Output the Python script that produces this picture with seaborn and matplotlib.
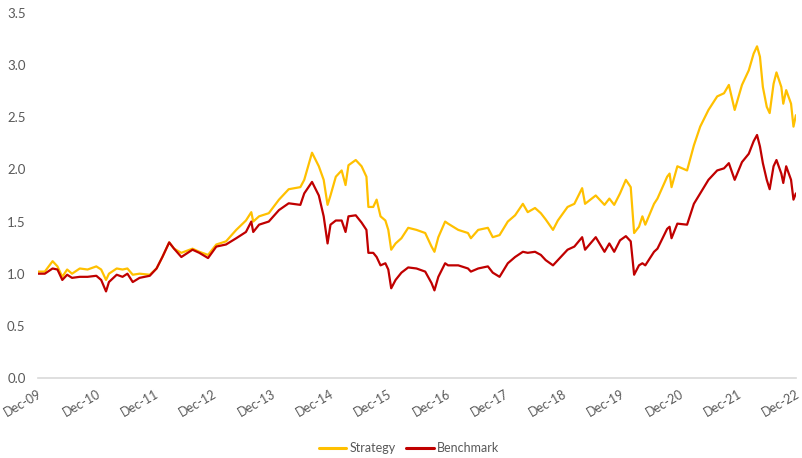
import numpy as np
import pandas as pd
import matplotlib
matplotlib.use('Agg')
import matplotlib.pyplot as plt
import seaborn as sns

# months since Dec-09
months = [0, 1.4, 3, 4, 5, 6, 7, 8.6, 10.2, 12, 13, 14, 14.6, 16.2, 17.4, 18.4, 19.5, 20.9, 23,
          24.4, 25.6, 27, 28, 29.5, 31.8, 33.2, 35, 36.7, 38.7, 40.8, 42.8, 43.9, 44.3, 45.5, 47.5,
          49.6, 51.6, 54, 54.8, 56.4, 57.8, 58.8, 59.6, 60.2, 61.3, 62.5, 63.3, 63.9, 65.4, 66.6,
          67.6, 68, 69, 69.7, 70.5, 71.5, 72.1, 72.7, 73.6, 74.8, 76.2, 77.9, 79.7, 81, 81.6, 82.4,
          83.8, 84.4, 86.5, 88.5, 89.1, 90.6, 92.6, 93.6, 95, 96.7, 98.2, 99.8, 100.8, 102.3, 103.5,
          104.5, 106, 107, 109, 110.4, 112, 112.6, 114.8, 116.6, 117.6, 118.6, 119.8, 121, 122,
          122.7, 123.7, 124.4, 125, 126.8, 127.5, 129.5, 130, 130.4, 131.6, 133.6, 135, 136.3, 138,
          139.8, 141.2, 142.2, 143.4, 144.9, 146.3, 147.3, 148, 148.6, 149.2, 150, 150.6, 151.4,
          152, 153, 153.4, 154, 155, 155.5, 156]

strategy = [1.02, 1.02, 1.12, 1.07, 0.97, 1.04, 1.00, 1.05, 1.04, 1.07, 1.04, 0.94, 1.00, 1.05, 1.04,
            1.05, 0.99, 1.00, 0.99, 1.05, 1.16, 1.30, 1.24, 1.20, 1.24, 1.21, 1.18, 1.28, 1.31, 1.42,
            1.51, 1.59, 1.50, 1.55, 1.58, 1.71, 1.81, 1.83, 1.90, 2.16, 2.03, 1.90, 1.66, 1.75, 1.93,
            1.99, 1.85, 2.04, 2.09, 2.03, 1.93, 1.64, 1.64, 1.71, 1.55, 1.51, 1.42, 1.23, 1.29, 1.34,
            1.44, 1.42, 1.39, 1.26, 1.21, 1.35, 1.50, 1.48, 1.42, 1.39, 1.34, 1.42, 1.44, 1.35, 1.37,
            1.50, 1.56, 1.67, 1.59, 1.63, 1.58, 1.52, 1.42, 1.51, 1.64, 1.67, 1.82, 1.67, 1.75, 1.66,
            1.72, 1.66, 1.77, 1.90, 1.83, 1.39, 1.45, 1.55, 1.47, 1.67, 1.72, 1.93, 1.96, 1.83, 2.03,
            1.99, 2.23, 2.41, 2.57, 2.70, 2.73, 2.81, 2.57, 2.81, 2.95, 3.11, 3.18, 3.08, 2.79, 2.60,
            2.54, 2.82, 2.93, 2.79, 2.63, 2.76, 2.63, 2.41, 2.52]

benchmark = [1.00, 1.00, 1.05, 1.04, 0.94, 0.99, 0.96, 0.97, 0.97, 0.98, 0.94, 0.83, 0.92, 0.99, 0.97,
             1.00, 0.92, 0.96, 0.98, 1.05, 1.16, 1.30, 1.24, 1.16, 1.23, 1.20, 1.15, 1.26, 1.28, 1.34,
             1.40, 1.50, 1.40, 1.47, 1.50, 1.61, 1.675, 1.66, 1.77, 1.88, 1.75, 1.55, 1.29, 1.47, 1.51,
             1.51, 1.40, 1.55, 1.56, 1.49, 1.42, 1.20, 1.20, 1.16, 1.08, 1.10, 1.04, 0.86, 0.94, 1.01,
             1.06, 1.05, 1.02, 0.91, 0.84, 0.97, 1.10, 1.08, 1.08, 1.05, 1.02, 1.05, 1.07, 1.01, 0.97,
             1.10, 1.16, 1.21, 1.20, 1.21, 1.18, 1.13, 1.08, 1.13, 1.23, 1.26, 1.35, 1.23, 1.35, 1.21,
             1.29, 1.21, 1.32, 1.36, 1.31, 0.99, 1.08, 1.10, 1.08, 1.21, 1.24, 1.43, 1.45, 1.34, 1.48,
             1.47, 1.67, 1.77, 1.90, 1.99, 2.01, 2.06, 1.90, 2.07, 2.15, 2.27, 2.33, 2.22, 2.06, 1.90,
             1.81, 2.03, 2.09, 1.96, 1.87, 2.03, 1.90, 1.71, 1.77]

tick_labels = ['Dec-09', 'Dec-10', 'Dec-11', 'Dec-12', 'Dec-13', 'Dec-14', 'Dec-15',
               'Dec-16', 'Dec-17', 'Dec-18', 'Dec-19', 'Dec-20', 'Dec-21', 'Dec-22']

df = pd.DataFrame({'month': months * 2,
                   'value': strategy + benchmark,
                   'series': ['Strategy'] * len(months) + ['Benchmark'] * len(months)})

sns.set_style('white')
plt.rcParams['font.family'] = ['Lato', 'DejaVu Sans']

fig = plt.figure(figsize=(8.02, 4.58), dpi=100)
ax = fig.add_axes([0.0474, 0.1747, 0.945, 0.797])

sns.lineplot(data=df, x='month', y='value', hue='series',
             palette={'Strategy': '#FFC000', 'Benchmark': '#C00000'},
             linewidth=1.6, ax=ax, legend=False)

ax.set_xlim(0, 156)
ax.set_ylim(0, 3.5)
ax.set_yticks(np.arange(0, 3.51, 0.5))
ax.set_yticklabels(['%.1f' % v for v in np.arange(0, 3.51, 0.5)], color='#595959', fontsize=9.5)
ax.set_xticks(np.arange(0, 157, 12))
ax.set_xticklabels(tick_labels, rotation=30, ha='right', rotation_mode='anchor',
                   color='#595959', fontsize=9)
ax.tick_params(axis='y', length=0, pad=9)
ax.tick_params(axis='x', length=0, pad=7)
ax.set_xlabel('')
ax.set_ylabel('')
for s in ['top', 'right', 'left']:
    ax.spines[s].set_visible(False)
ax.spines['bottom'].set_color('#D9D9D9')
ax.spines['bottom'].set_linewidth(1.2)

handles = [plt.Line2D([], [], color='#FFC000', lw=2.2), plt.Line2D([], [], color='#C00000', lw=2.2)]
fig.legend(handles, ['Strategy', 'Benchmark'], loc='center', bbox_to_anchor=(0.51, 0.022),
           ncol=2, frameon=False, fontsize=9, handlelength=2.2, handletextpad=0.3,
           columnspacing=0.8, labelcolor='#595959')

fig.savefig('out.png', dpi=100)
